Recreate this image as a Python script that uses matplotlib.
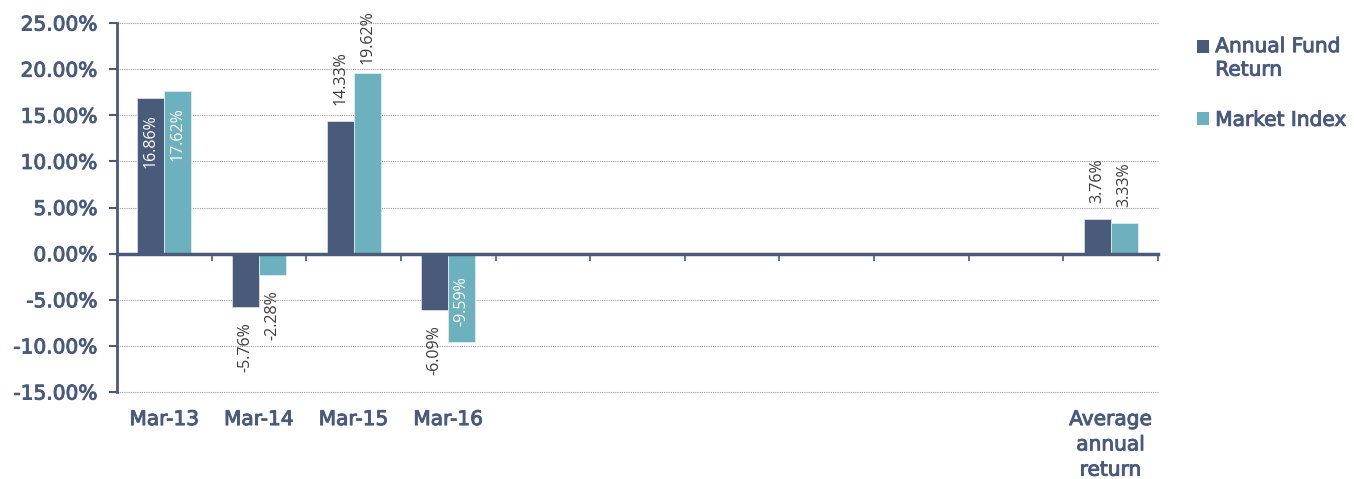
import numpy as np
import matplotlib
matplotlib.use('Agg')
import matplotlib.pyplot as plt
import matplotlib.patheffects as pe
from matplotlib.patches import Patch, Rectangle
from matplotlib.legend_handler import HandlerPatch

categories = ['Mar-13', 'Mar-14', 'Mar-15', 'Mar-16', '', '', '', '', '', '', 'Average\nannual\nreturn']
fund = [16.86, -5.76, 14.33, -6.09, np.nan, np.nan, np.nan, np.nan, np.nan, np.nan, 3.76]
market = [17.62, -2.28, 19.62, -9.59, np.nan, np.nan, np.nan, np.nan, np.nan, np.nan, 3.33]
fund_labels = ['16.86%', '-5.76%', '14.33%', '-6.09%', '', '', '', '', '', '', '3.76%']
market_labels = ['17.62%', '-2.28%', '19.62%', '-9.59%', '', '', '', '', '', '', '3.33%']
# 'in' = label inside bar end, 'out' = outside bar end
fund_pos = ['in', 'out', 'out', 'out', '', '', '', '', '', '', 'out']
market_pos = ['in', 'out', 'out', 'in', '', '', '', '', '', '', 'out']
yticks = [-15, -10, -5, 0, 5, 10, 15, 20, 25]

dark = '#4a5a7b'
teal = '#6cb1bd'
txt = '#4a5a7b'
lab = '#3c3c3c'
main_font = ['DejaVu Sans']
label_font = ['Open Sans', 'DejaVu Sans']
bolder = [pe.withStroke(linewidth=0.7, foreground=txt)]

plt.rcParams['font.family'] = main_font

fig = plt.figure(figsize=(13.54, 4.79), dpi=100)
ax = fig.add_axes([117 / 1354, 1 - 392 / 479, (1158 - 117) / 1354, (392 - 23) / 479])

x = np.arange(len(categories))
w = 0.285
b1 = ax.bar(x - w / 2, fund, w, color=dark, edgecolor='#d8dde6', linewidth=0.6, zorder=3)
b2 = ax.bar(x + w / 2, market, w, color=teal, edgecolor='#d8eef0', linewidth=0.6, zorder=3)


def add_labels(bars, vals, labels, pos):
    for rect, v, t, p in zip(bars, vals, labels, pos):
        if not t:
            continue
        cx = rect.get_x() + rect.get_width() / 2
        up = v >= 0
        if p == 'in':
            off = -11.5 if up else 11.5
            va = 'top' if up else 'bottom'
            col = 'white'
        else:
            off = 11.5 if up else -11
            if up and v > 19:
                off = 6
            va = 'bottom' if up else 'top'
            col = lab
        ax.annotate(t, (cx, v), xytext=(0, off), textcoords='offset points',
                    rotation=90, ha='center', va=va, fontsize=11.5, color=col,
                    family=label_font, zorder=4, annotation_clip=False)


add_labels(b1, fund, fund_labels, fund_pos)
add_labels(b2, market, market_labels, market_pos)

ax.set_xlim(-0.5, len(categories) - 0.5)
ax.set_ylim(-15, 25)
ax.set_yticks(yticks)
ax.set_yticklabels(['%.2f%%' % v for v in yticks], fontsize=14.5, color=txt)
for t in ax.get_yticklabels():
    t.set_path_effects(bolder)
for v in yticks:
    if v != 0:
        ax.axhline(v, color='#9a9a9a', linestyle=(0, (1, 1)), linewidth=0.8, zorder=1, clip_on=False)

ax.spines['top'].set_visible(False)
ax.spines['right'].set_visible(False)
ax.spines['left'].set_color(dark)
ax.spines['left'].set_linewidth(2)
ax.spines['left'].set_zorder(5)
ax.spines['bottom'].set_position(('data', 0))
ax.spines['bottom'].set_color(dark)
ax.spines['bottom'].set_linewidth(2.5)
ax.spines['bottom'].set_zorder(5)
ax.tick_params(axis='y', length=6, width=1.5, color=dark, pad=8)
ax.set_xticks(np.arange(len(categories) + 1) - 0.5)
ax.set_xticklabels([])
ax.tick_params(axis='x', length=5, width=1.2, color=dark)

sec = ax.secondary_xaxis(0.0)
sec.set_xticks(x)
sec.set_xticklabels(categories, fontsize=14.5, color=txt, linespacing=1.42)
for t in sec.get_xticklabels():
    t.set_path_effects(bolder)
sec.tick_params(length=0, pad=13)
sec.spines['bottom'].set_visible(False)


def square_top(legend, orig_handle, xdescent, ydescent, width, height, fontsize):
    # push the square up so it sits beside the first text line
    lines = orig_handle.get_label().count('\n')
    return Rectangle((-xdescent, -ydescent + lines * 0.62 * fontsize), width, height)


handles = [Patch(facecolor=dark, label='Annual Fund\nReturn'),
           Patch(facecolor=teal, label='Market Index')]
leg = fig.legend(handles=handles, loc='upper left', bbox_to_anchor=(1179 / 1354, 1 - 19 / 479),
                 frameon=False, handlelength=0.6, handleheight=0.6, handletextpad=0.3,
                 labelspacing=1.55, prop={'size': 14.5, 'family': main_font},
                 handler_map={Patch: HandlerPatch(patch_func=square_top)})
for t in leg.get_texts():
    t.set_color(txt)
    t.set_linespacing(1.3)
    t.set_path_effects(bolder)

fig.savefig('out.png', dpi=100)
